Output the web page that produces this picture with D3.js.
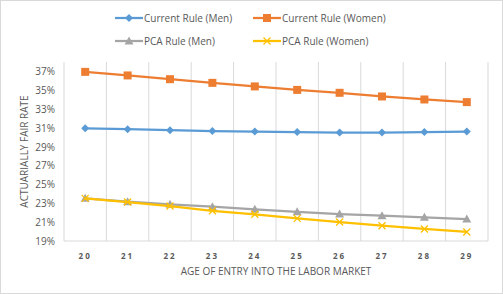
<!DOCTYPE html>
<html><head><meta charset="utf-8">
<script src="https://cdn.jsdelivr.net/npm/d3@7"></script>
<style>body{margin:0;background:#fff}svg{display:block}</style>
</head><body>
<script>
const ages = [20,21,22,23,24,25,26,27,28,29];
const currentMen   = [31.0,30.9,30.8,30.7,30.65,30.6,30.55,30.55,30.6,30.65];
const currentWomen = [37.01,36.63,36.23,35.84,35.46,35.09,34.78,34.39,34.07,33.79];
const pcaMen       = [23.54,23.18,22.9,22.65,22.37,22.11,21.87,21.69,21.52,21.34];
const pcaWomen     = [23.54,23.15,22.72,22.22,21.84,21.41,21.02,20.63,20.28,19.96];
const yTicks = [19,21,23,25,27,29,31,33,35,37];
const seriesNames = ["Current Rule (Men)","Current Rule (Women)","PCA Rule (Men)","PCA Rule (Women)"];

(function(){
const W=503,H=294;
const svg=d3.select("body").append("svg").attr("width",W).attr("height",H);
svg.append("rect").attr("x",0.5).attr("y",0.5).attr("width",W-1).attr("height",H-1).attr("fill","#fff").attr("stroke","#d9d9d9");

const pL=64,pR=488,pT=62,pB=241;
const x=d3.scaleBand().domain(ages).range([pL,pR]);
const y=d3.scaleLinear().domain([19,38.06]).range([pB,pT]);
const font="'Open Sans', 'Liberation Sans', sans-serif";
const grey="#595959";

const bounds = ages.map(a=>x(a)).concat([pR]);
svg.append("g").selectAll("line").data(bounds.slice(1)).join("line")
  .attr("x1",d=>d).attr("x2",d=>d).attr("y1",pT).attr("y2",pB)
  .attr("stroke","#d9d9d9").attr("stroke-width",1);
svg.append("line").attr("x1",pL).attr("x2",pL).attr("y1",pT).attr("y2",pB).attr("stroke","#d9d9d9");
svg.append("line").attr("x1",pL).attr("x2",pR).attr("y1",pB).attr("y2",pB).attr("stroke","#d9d9d9");

svg.append("g").selectAll("text").data(yTicks).join("text")
  .attr("x",55).attr("y",d=>y(d)).attr("dy","0.35em").attr("text-anchor","end")
  .attr("font-family",font).attr("font-size",10).attr("fill",grey)
  .text(d=>d+"%");
svg.append("g").selectAll("text").data(ages).join("text")
  .attr("x",d=>x(d)+x.bandwidth()/2).attr("y",256).attr("dy","0.35em").attr("text-anchor","middle")
  .attr("font-family",font).attr("font-size",8).attr("font-weight","bold").attr("letter-spacing","2px").attr("fill",grey)
  .text(d=>d);
svg.append("text").attr("x",(pL+pR)/2).attr("y",271).attr("dy","0.35em").attr("text-anchor","middle")
  .attr("font-family",font).attr("font-size",10).attr("fill",grey).text("AGE OF ENTRY INTO THE LABOR MARKET");
svg.append("text").attr("transform",`translate(24,${(pT+pB)/2}) rotate(-90)`).attr("dy","0.35em").attr("text-anchor","middle")
  .attr("font-family",font).attr("font-size",10).attr("fill",grey).text("ACTUARIALLY FAIR RATE");

const colors=["#5b9bd5","#ed7d31","#a5a5a5","#ffc000"];
const shapes=["diamond","square","triangle","x"];
const data=[currentMen,currentWomen,pcaMen,pcaWomen];
const line=d3.line().x((d,i)=>x(ages[i])+x.bandwidth()/2).y(d=>y(d));

function marker(g,shape,color,cx,cy){
  if(shape==="diamond") g.append("path").attr("d",`M${cx},${cy-4}L${cx+4},${cy}L${cx},${cy+4}L${cx-4},${cy}Z`).attr("fill",color);
  else if(shape==="square") g.append("rect").attr("x",cx-4).attr("y",cy-4).attr("width",8).attr("height",8).attr("fill",color);
  else if(shape==="triangle") g.append("path").attr("d",`M${cx},${cy-4.5}L${cx+4.5},${cy+3.5}L${cx-4.5},${cy+3.5}Z`).attr("fill",color);
  else g.append("path").attr("d",`M${cx-3.5},${cy-3.5}L${cx+3.5},${cy+3.5}M${cx+3.5},${cy-3.5}L${cx-3.5},${cy+3.5}`).attr("stroke",color).attr("stroke-width",1.3);
}

data.forEach((s,k)=>{
  const g=svg.append("g");
  g.append("path").datum(s).attr("d",line).attr("fill","none").attr("stroke",colors[k]).attr("stroke-width",2.25).attr("stroke-linejoin","round");
  s.forEach((v,i)=>marker(g,shapes[k],colors[k],x(ages[i])+x.bandwidth()/2,y(v)));
});

const legPos=[[115,18],[253,18],[115,41],[253,41]];
seriesNames.forEach((n,k)=>{
  const [lx,ly]=legPos[k];
  const g=svg.append("g");
  g.append("line").attr("x1",lx).attr("x2",lx+28).attr("y1",ly).attr("y2",ly).attr("stroke",colors[k]).attr("stroke-width",2.25);
  marker(g,shapes[k],colors[k],lx+14,ly);
  g.append("text").attr("x",lx+29).attr("y",ly).attr("dy","0.35em").attr("font-family",font).attr("font-size",10).attr("fill",grey).text(n);
});
})();
</script>
</body></html>
